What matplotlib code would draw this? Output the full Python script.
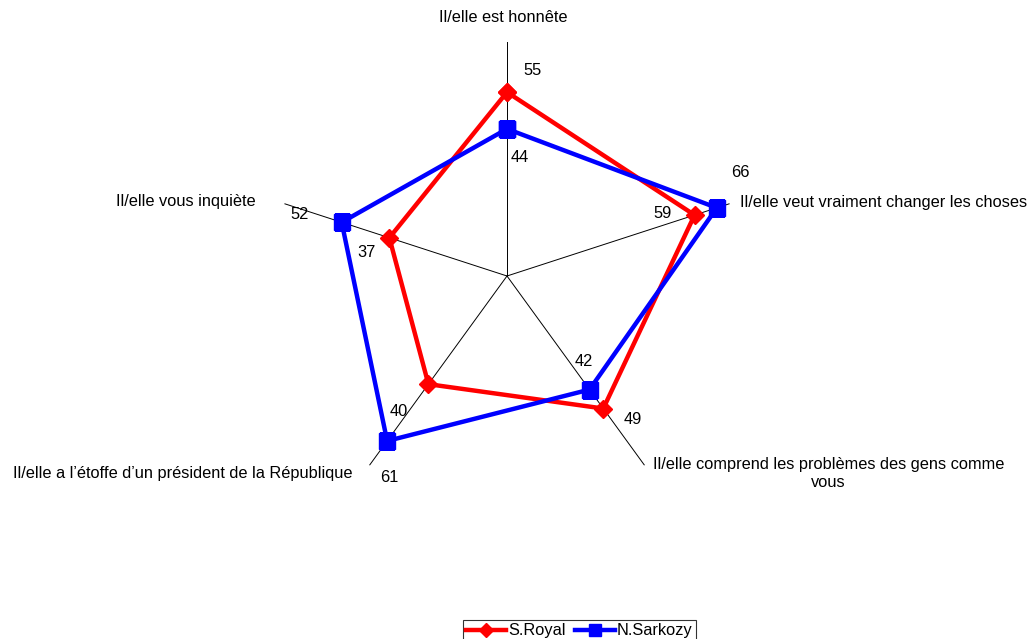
import numpy as np
import matplotlib
matplotlib.use('Agg')
import matplotlib.pyplot as plt

matplotlib.rcParams['font.family'] = ['Liberation Sans', 'DejaVu Sans']

# Categories (clockwise from top) and scores for each candidate
categories = ['Il/elle est honnête',
              'Il/elle veut vraiment changer les choses',
              'Il/elle comprend les problèmes des gens comme\nvous',
              'Il/elle a l\u2019étoffe d\u2019un président de la République',
              'Il/elle vous inquiète']
royal = [55, 59, 49, 40, 37]
sarkozy = [44, 66, 42, 61, 52]
r_max = 70

n = len(categories)
theta = np.arange(n) * 2 * np.pi / n
theta_closed = np.append(theta, theta[0])

fs = 11.8

fig = plt.figure(figsize=(10.32, 6.39), dpi=100)
# polar axes centred on (507, 276) px, radius 234 px
ax = fig.add_axes([273 / 1032, 129 / 639, 468 / 1032, 468 / 639], projection='polar')
ax.set_theta_zero_location('N')
ax.set_theta_direction(-1)
ax.set_ylim(0, r_max)
ax.grid(False)
ax.spines['polar'].set_visible(False)
ax.set_xticks([])
ax.set_yticks([])
ax.patch.set_alpha(0)

# thin black spokes
for t in theta:
    ax.plot([t, t], [0, r_max], color='black', lw=0.7, zorder=1)

ax.plot(theta_closed, royal + royal[:1], color='#ff0000', lw=3.2,
        marker='D', markersize=9, label='S.Royal', zorder=3)
ax.plot(theta_closed, sarkozy + sarkozy[:1], color='#0000ff', lw=3.2,
        marker='s', markersize=11, label='N.Sarkozy', zorder=4)

# category labels, offsets in pixels from the end of each spoke
cat_style = [((-4, 24), 'center'), ((10, 1), 'left'), ((184, -8), 'center'),
             ((-17, -8), 'right'), ((-29, 2), 'right')]
for t, lab, (off, ha) in zip(theta, categories, cat_style):
    ax.annotate(lab, (t, r_max), xytext=off, textcoords='offset pixels',
                ha=ha, va='center', multialignment='center', fontsize=fs)

# value labels
royal_off = [(26, 22), (-32, 2), (29, -11), (-30, -27), (-23, -15)]
sarko_off = [(13, -29), (24, 35), (-6, 28), (2, -37), (-42, 8)]
for t, v, off in zip(theta, royal, royal_off):
    ax.annotate(str(v), (t, v), xytext=off, textcoords='offset pixels',
                ha='center', va='center', fontsize=fs)
for t, v, off in zip(theta, sarkozy, sarko_off):
    ax.annotate(str(v), (t, v), xytext=off, textcoords='offset pixels',
                ha='center', va='center', fontsize=fs)

leg = fig.legend(loc='upper center', bbox_to_anchor=(579.5 / 1032, 1 - 620 / 639),
                 ncol=2, fontsize=fs, frameon=True, fancybox=False,
                 edgecolor='black', handlelength=2.45, handletextpad=0.1,
                 columnspacing=0.6, borderpad=0.2, borderaxespad=0,
                 markerscale=0.8)
leg.get_frame().set_linewidth(0.8)

fig.savefig('out.png', dpi=100)
